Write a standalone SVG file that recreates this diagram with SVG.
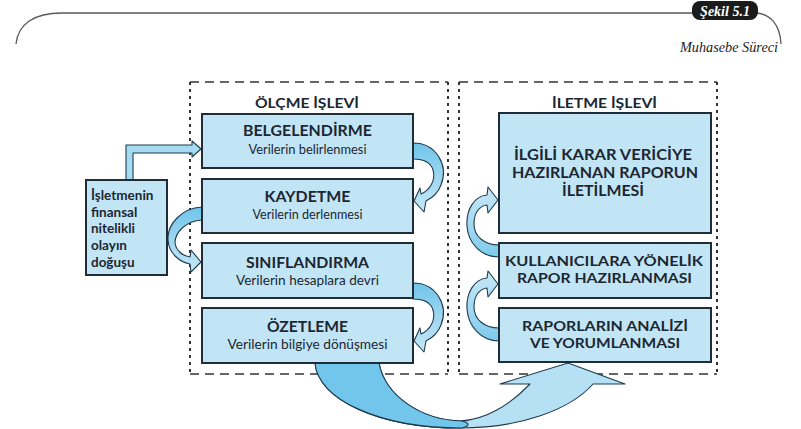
<svg xmlns="http://www.w3.org/2000/svg" width="801" height="429" viewBox="0 0 801 429">
<defs>
<style>
.frame{fill:none;stroke:#5a5a5a;stroke-width:1.3}
.dh{stroke:#333;stroke-width:1.6;stroke-dasharray:9 6;fill:none}
.dv{stroke:#333;stroke-width:2;stroke-dasharray:3 4;fill:none}
.box{fill:#c2e5f6;stroke:#1f2d38;stroke-width:2}
.t{font-family:Lato,"Open Sans",sans-serif;font-weight:bold;font-size:15px;fill:#1c2731;text-anchor:middle}
.t2{font-family:Lato,"Open Sans",sans-serif;font-weight:bold;font-size:13.5px;fill:#1c2731;text-anchor:middle}
.s{font-family:Lato,"Open Sans",sans-serif;font-size:13.5px;fill:#1c2731;text-anchor:middle}
.ttl{font-family:Lato,"Open Sans",sans-serif;font-weight:bold;font-size:14px;fill:#1c2731;text-anchor:middle}
.lt{font-family:Lato,"Open Sans",sans-serif;font-weight:bold;font-size:13.5px;fill:#1c2731}
.arr{stroke:#1f3a4e;stroke-width:1.1;stroke-linejoin:round}
</style>
<linearGradient id="gdown" x1="0" y1="0" x2="0" y2="1">
<stop offset="0" stop-color="#6fc4ea"/><stop offset="0.45" stop-color="#9ad5ef"/><stop offset="1" stop-color="#c6e8f7"/>
</linearGradient>
<linearGradient id="gup" x1="0" y1="1" x2="0" y2="0">
<stop offset="0" stop-color="#7ccaec"/><stop offset="0.45" stop-color="#a3d9f1"/><stop offset="1" stop-color="#c6e8f7"/>
</linearGradient>
</defs>

<g id="header">
<path class="frame" d="M16,44 C18,24 34,13 62,13 L694,13"/>
<path class="frame" d="M756,13 C770,14 780,24 781,44"/>
<rect x="692" y="1" width="66" height="19" rx="8" fill="#1b1b1b"/>
<text x="725" y="16" font-family="'Liberation Serif',serif" font-style="italic" font-weight="bold" font-size="14" fill="#fff" text-anchor="middle">Şekil 5.1</text>
<text x="778" y="52" font-family="'Liberation Serif',serif" font-style="italic" font-size="14" fill="#222" text-anchor="end" textLength="98" lengthAdjust="spacingAndGlyphs">Muhasebe Süreci</text>
</g>

<g id="olcme-islevi">
<path class="dh" d="M190,82 H448 M190,374 H448"/>
<path class="dv" d="M190,82 V374 M448,82 V374"/>
<text class="ttl" x="307" y="108" textLength="104" lengthAdjust="spacingAndGlyphs">ÖLÇME İŞLEVİ</text>
</g>
<g id="iletme-islevi">
<path class="dh" d="M459,82 H717 M459,374 H717"/>
<path class="dv" d="M459,82 V374 M717,82 V374"/>
<text class="ttl" x="604.5" y="108" textLength="105" lengthAdjust="spacingAndGlyphs">İLETME İŞLEVİ</text>
</g>

<g id="connectors">
<path class="arr" fill="#a6dbf2" d="M126,180 L126,145 L192,145 L192,141 L201,149 L192,157 L192,153 L133,153 L133,180 Z"/>
<path class="arr" fill="url(#gdown)" d="M413,143 C436,143 449,165 441,185 C438,193 432,198 426,201 L424,212 L414,201 L420,188 L421,194 C430,190 436,180 433,170 C431,163 424,159 413,159 Z"/>
<path class="arr" fill="url(#gdown)" d="M202,207 C181,208 167,225 168,240 C169,254 180,262 190,264 L191,272 L201,262 L191,250 L190,257 C182,256 176,250 175,243 C175,232 186,221 202,220 Z"/>
<path class="arr" fill="url(#gdown)" d="M413,283 C436,283 449,305 441,325 C438,333 432,338 426,341 L424,352 L414,341 L420,328 L421,334 C430,330 436,320 433,310 C431,303 424,299 413,299 Z"/>
<path class="arr" fill="url(#gup)" d="M499,245 C484,245 474,236 474,224 C474,213 479,206 487,205 L488,213 L498,200 L488,187 L487,195 C474,196 466,210 467,226 C468,243 481,257 499,257 Z"/>
<path class="arr" fill="url(#gup)" d="M499,328 C484,328 474,319 474,307 C474,296 479,289 487,288 L488,297 L498,284 L488,271 L487,278 C474,279 466,293 467,309 C468,326 481,341 499,341 Z"/>
<path class="arr" fill="#b6e1f4" d="M315,363 C318,400 380,428 460,428 C520,428 570,410 593,384 L625,384 L568,363 L500,384 L530,384 C510,405 485,420 460,421 C420,420 385,395 379,363 Z"/>
<path class="arr" fill="#72c6eb" d="M315,363 C318,400 380,428 462,428 C470,426 470,423 462,421 C420,420 385,395 379,363 Z"/>
</g>

<g id="isletmenin">
<rect class="box" x="86" y="180" width="81" height="95"/>
<text class="lt" x="91" y="200">İşletmenin</text>
<text class="lt" x="91" y="217">finansal</text>
<text class="lt" x="91" y="233">nitelikli</text>
<text class="lt" x="91" y="250">olayın</text>
<text class="lt" x="91" y="267">doğuşu</text>
</g>
<g id="belgelendirme">
<rect class="box" x="202" y="114" width="211" height="54"/>
<text class="t" x="307.5" y="136" textLength="129" lengthAdjust="spacingAndGlyphs">BELGELENDİRME</text>
<text class="s" x="307.5" y="154" textLength="118" lengthAdjust="spacingAndGlyphs">Verilerin belirlenmesi</text>
</g>
<g id="kaydetme">
<rect class="box" x="202" y="179" width="211" height="54"/>
<text class="t" x="307.5" y="202" textLength="86" lengthAdjust="spacingAndGlyphs">KAYDETME</text>
<text class="s" x="307.5" y="219" textLength="110" lengthAdjust="spacingAndGlyphs">Verilerin derlenmesi</text>
</g>
<g id="siniflandirma">
<rect class="box" x="202" y="243" width="211" height="55"/>
<text class="t" x="307.5" y="268" textLength="123" lengthAdjust="spacingAndGlyphs">SINIFLANDIRMA</text>
<text class="s" x="307.5" y="285" textLength="143" lengthAdjust="spacingAndGlyphs">Verilerin hesaplara devri</text>
</g>
<g id="ozetleme">
<rect class="box" x="202" y="308" width="211" height="55"/>
<text class="t" x="307.5" y="332" textLength="81" lengthAdjust="spacingAndGlyphs">ÖZETLEME</text>
<text class="s" x="307.5" y="349" textLength="160" lengthAdjust="spacingAndGlyphs">Verilerin bilgiye dönüşmesi</text>
</g>
<g id="iletilmesi">
<rect class="box" x="499" y="113" width="212" height="120"/>
<text class="t" x="603" y="160" textLength="178" lengthAdjust="spacingAndGlyphs">İLGİLİ KARAR VERİCİYE</text>
<text class="t" x="605" y="178" textLength="186" lengthAdjust="spacingAndGlyphs">HAZIRLANAN RAPORUN</text>
<text class="t" x="603" y="196" textLength="82" lengthAdjust="spacingAndGlyphs">İLETİLMESİ</text>
</g>
<g id="rapor-hazirlanmasi">
<rect class="box" x="499" y="243" width="212" height="55"/>
<text class="t2" x="604" y="266" textLength="198" lengthAdjust="spacingAndGlyphs">KULLANICILARA YÖNELİK</text>
<text class="t2" x="604.5" y="283" textLength="175" lengthAdjust="spacingAndGlyphs">RAPOR HAZIRLANMASI</text>
</g>
<g id="analiz">
<rect class="box" x="499" y="308" width="212" height="54"/>
<text class="t2" x="605" y="331" textLength="166" lengthAdjust="spacingAndGlyphs">RAPORLARIN ANALİZİ</text>
<text class="t2" x="605" y="348" textLength="150" lengthAdjust="spacingAndGlyphs">VE YORUMLANMASI</text>
</g>
</svg>
